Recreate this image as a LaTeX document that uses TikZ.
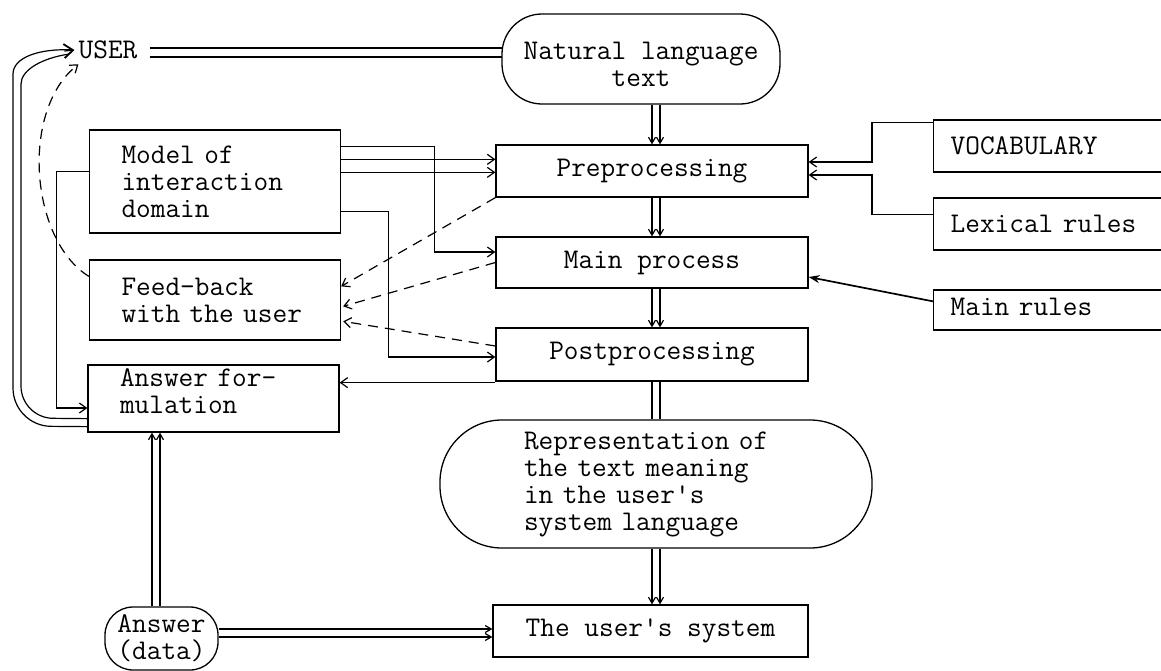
\documentclass[tikz,border=0pt]{standalone}
\usepackage{fontspec}
\usetikzlibrary{arrows.meta,calc}
\newcommand\dfont{\ttfamily\fontsize{28.5pt}{27pt}\selectfont}
\begin{document}
\begin{tikzpicture}[x=1pt,y=-1pt,
  every node/.style={font=\dfont},
  box/.style={draw, line width=1.3pt, inner sep=0pt},
  lbox/.style={box, align=left, inner xsep=32pt, text width=187pt},
  rbox/.style={box, align=left, inner xsep=17pt, text width=208pt, anchor=west},
  conn/.style={line width=1.2pt},
  arr/.style={conn, -{Straight Barb[length=7pt,width=10pt]}},
  darr/.style={arr, dash pattern=on 10pt off 7pt},
  dbl/.style={conn, -{Straight Barb[length=6pt,width=7pt]}},
  heavy/.style={line width=1.7pt, -{Stealth[length=11pt,width=8pt]}},
]
\clip (0,0) rectangle (1161,670);

% ---------- nodes ----------
\node[inner sep=2pt] (user) at (108,50) {USER};
\node[box, rounded corners=40pt, minimum width=278pt, minimum height=90pt, align=center] (nat) at (641,59) {\rule{0pt}{28pt}Natural language\\text};
\node[box, minimum width=312pt, minimum height=52pt] (pre) at (652,171) {Preprocessing};
\node[box, minimum width=312pt, minimum height=51pt] (main) at (652,262.5) {Main process};
\node[box, minimum width=312pt, minimum height=53pt] (post) at (652,354.5) {Postprocessing};
\node[box, rounded corners=62pt, minimum width=432pt, minimum height=128pt, align=left, text width=264pt] (rep) at (656,484) {Representation of\\the text meaning\\in the user's\\system language};
\node[box, minimum width=315pt, minimum height=52pt] (us) at (650.5,631) {The user's system};
\node[box, rounded corners=28pt, minimum width=113pt, minimum height=63pt, align=center] (ans) at (161.5,638.5) {Answer\\(data)};
\node[lbox, minimum height=103pt] (model) at (215,181.5) {Model of\\interaction\\domain};
\node[lbox, minimum height=80pt] (feed) at (215,300) {Feed-back\\with the user};
\node[lbox, minimum height=67pt] (af) at (213.5,398.5) {\rule{0pt}{8pt}Answer for-\\mulation\rule[-14pt]{0pt}{14pt}};
\node[rbox, minimum height=52pt] (vocab) at (933,146) {VOCABULARY};
\node[rbox, minimum height=52pt] (lex) at (933,224) {Lexical rules};
\node[rbox, minimum height=40pt] (mrules) at (933,310) {\rule[-7pt]{0pt}{7pt}Main rules};

% ---------- USER -- natural language text (double line) ----------
\draw[conn] ($(user.east)+(10,-2)$) -- ($(nat.west)+(1,-11)$);
\draw[conn] ($(user.east)+(10,7)$) -- ($(nat.west)+(1,-2)$);

% ---------- vertical double arrows in the main column ----------
\foreach \s in {0pt,8pt}{
  \draw[dbl, transform canvas={xshift=\s}] (nat.south -| pre.north) -- (pre.north);
  \draw[dbl, transform canvas={xshift=\s}] (pre.south) -- (main.north);
  \draw[dbl, transform canvas={xshift=\s}] (main.south) -- (post.north);
  \draw[conn, transform canvas={xshift=\s}] (post.south) -- (post.south |- rep.north);
}
\foreach \s in {-4pt,4pt}{
  \draw[dbl, transform canvas={xshift=\s}] (rep.south) -- (rep.south |- us.north);
}
% Answer (data) -> Answer formulation
\foreach \s in {-9.5pt,-1.5pt}{
  \draw[dbl, transform canvas={xshift=\s}] (ans.north) -- (ans.north |- af.south);
}
% Answer (data) -> user's system
\foreach \s in {2pt,-6pt}{
  \draw[dbl, transform canvas={yshift=\s}] (ans.east |- us.west) -- (us.west);
}

% ---------- model of interaction domain ----------
\coordinate (m1) at ($(model.north east)+(0,17)$);
\coordinate (m1t) at ($(main.west)+(0,-10.5)$);
\draw[arr] (m1) -| ($(m1t)+(-61,0)$) -- (m1t);
\coordinate (m2) at ($(model.north east)+(0,30)$);
\draw[arr] (m2) -- (m2 -| pre.west);
\coordinate (m3) at ($(model.north east)+(0,43)$);
\draw[arr] (m3) -- (m3 -| pre.west);
\coordinate (m4) at ($(model.north east)+(0,82)$);
\draw[arr] (m4) -- ++(47,0) |- ($(post.west)+(0,2.5)$);
\coordinate (m5) at ($(model.north west)+(0,42)$);
\draw[arr] (m5) -- ++(-32,0) |- ($(af.west)+(0,9.5)$);

% Postprocessing -> Answer formulation
\draw[arr] ($(post.south west)+(0,1)$) -- ($(post.south west -| af.east)+(0,1)$);

% ---------- knowledge sources ----------
\draw[arr] ($(vocab.north west)+(0,3)$) -- ++(-61,0) |- ($(pre.east)+(0,-9)$);
\draw[arr] ($(lex.north west)+(0,17)$) -- ++(-61,0) |- ($(pre.east)+(0,4)$);
\draw[heavy] ($(mrules.north west)+(0,12)$) -- ($(main.east)+(0,14.5)$);

% ---------- dashed feed-back arrows ----------
\draw[darr] (pre.south west) -- ($(feed.north east)+(0,27)$);
\draw[darr] ($(main.west)+(0,0)$) -- ($(feed.north east)+(2,47)$);
\draw[darr] ($(post.west)+(0,-8.5)$) -- ($(feed.north east)+(2,62)$);
\draw[darr] ($(feed.north west)+(0,17)$) .. controls (30,240) and (20,110) .. ($(user.south west)+(2,3)$);

% ---------- Answer formulation -> USER (double curved arrow) ----------
\draw[conn, rounded corners=38pt] ($(af.south west)+(0,-6)$) -- (13,426) -- (13,112)
  .. controls (13,58) and (38,48) .. ($(user.west)+(-3,0)$);
\draw[conn, rounded corners=32pt] ($(af.south west)+(0,-14)$) -- (21,418) -- (21,116)
  .. controls (21,70) and (42,58) .. ($(user.west)+(-7,4)$);
\draw[conn, -{Straight Barb[length=9pt,width=14pt,line width=1.8pt]}] ($(user.west)+(-12,1)$) -- ($(user.west)+(-2,0)$);
\end{tikzpicture}
\end{document}
